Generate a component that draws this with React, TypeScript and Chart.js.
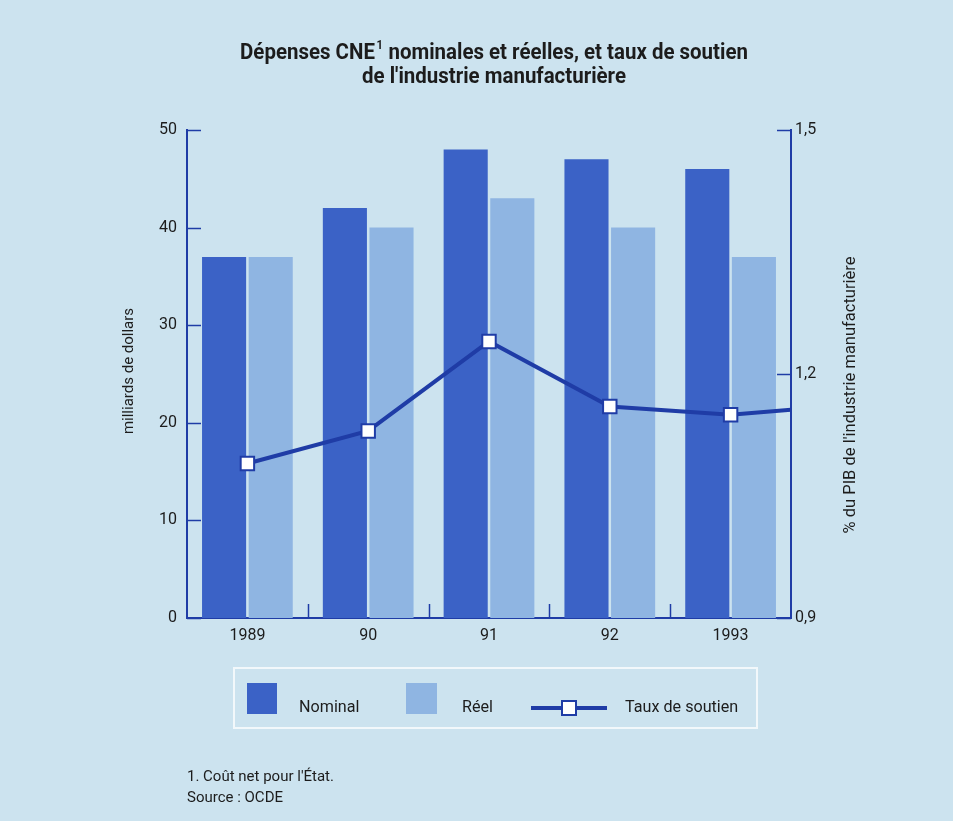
import { useEffect, useRef } from 'react';
import { Chart, registerables } from 'chart.js';

Chart.register(...registerables);

// Données : dépenses CNE (milliards de dollars) et taux de soutien (% du PIB manufacturier)
const years = ['1989', '90', '91', '92', '1993'];
const nominal = [37, 42, 48, 47, 46];
const reel = [37, 40, 43, 40, 37];
const tauxSoutien = [1.09, 1.13, 1.24, 1.16, 1.15];
const tauxFinAxe = 1.156; // prolongement de la courbe jusqu'à l'axe de droite
const leftTicks = [0, 10, 20, 30, 40, 50];
const rightTicks = [0.9, 1.2, 1.5];

const W = 953;
const H = 821;
const FONT = "Roboto, 'Noto Sans', sans-serif";
const BG = '#cce3ef';
const NAVY = '#1f3ca6';
const C_NOM = '#3b62c6';
const C_REEL = '#8fb5e2';
const TEXT = '#1c1c1c';

// décalage des deux barres d'une même année (fraction de la largeur de catégorie)
const PAIR_SHIFT = 0.193;

const fmt = (v: number) => v.toFixed(1).replace('.', ',');

// texte légèrement condensé (police étroite)
function condensed(ctx: CanvasRenderingContext2D, text: string, x: number, y: number, k: number, align: 'left' | 'center') {
  const w = ctx.measureText(text).width * k;
  const left = align === 'center' ? x - w / 2 : x;
  ctx.save();
  ctx.translate(left, y);
  ctx.scale(k, 1);
  ctx.textAlign = 'left';
  ctx.fillText(text, 0, 0);
  ctx.restore();
  return w;
}

const decor = {
  id: 'decor',
  beforeDraw(chart: any) {
    const { ctx } = chart;
    ctx.save();
    ctx.fillStyle = BG;
    ctx.fillRect(0, 0, chart.width, chart.height);
    ctx.restore();
  },
  afterDatasetsDraw(chart: any) {
    const { ctx, chartArea, scales } = chart;
    ctx.save();
    ctx.strokeStyle = NAVY;
    ctx.lineWidth = 1.5;
    const len = 14;
    leftTicks.forEach((v) => {
      const y = Math.round(scales.y.getPixelForValue(v)) + 0.5;
      ctx.beginPath();
      ctx.moveTo(chartArea.left, y);
      ctx.lineTo(chartArea.left + len, y);
      ctx.stroke();
    });
    rightTicks.forEach((v) => {
      const y = Math.round(scales.y1.getPixelForValue(v)) + 0.5;
      ctx.beginPath();
      ctx.moveTo(chartArea.right, y);
      ctx.lineTo(chartArea.right - len, y);
      ctx.stroke();
    });
    for (let i = 0; i < years.length - 1; i++) {
      const x = Math.round((scales.x.getPixelForTick(i) + scales.x.getPixelForTick(i + 1)) / 2) + 0.5;
      ctx.beginPath();
      ctx.moveTo(x, chartArea.bottom);
      ctx.lineTo(x, chartArea.bottom - len);
      ctx.stroke();
    }
    ctx.restore();
  },
  afterDraw(chart: any) {
    const { ctx } = chart;
    ctx.save();
    ctx.fillStyle = TEXT;
    ctx.textBaseline = 'alphabetic';

    // Titre sur deux lignes
    const cx = 494;
    const tA = 'Dépenses CNE';
    const tSup = '1';
    const tB = ' nominales et réelles, et taux de soutien';
    const k = 0.93;
    ctx.font = `bold 22px ${FONT}`;
    const wA = ctx.measureText(tA).width * k;
    const wB = ctx.measureText(tB).width * k;
    ctx.font = `bold 12px ${FONT}`;
    const wS = ctx.measureText(tSup).width * k + 2;
    const x0 = cx - (wA + wS + wB) / 2;
    ctx.font = `bold 22px ${FONT}`;
    condensed(ctx, tA, x0, 59, k, 'left');
    ctx.font = `bold 12px ${FONT}`;
    condensed(ctx, tSup, x0 + wA + 1.5, 49, k, 'left');
    ctx.font = `bold 22px ${FONT}`;
    condensed(ctx, tB, x0 + wA + wS, 59, k, 'left');
    condensed(ctx, "de l'industrie manufacturière", cx, 83, k, 'center');

    // Titres des axes
    ctx.textBaseline = 'middle';
    ctx.font = `15px ${FONT}`;
    ctx.save();
    ctx.translate(129, 371);
    ctx.rotate(-Math.PI / 2);
    condensed(ctx, 'milliards de dollars', 0, 0, 1, 'center');
    ctx.restore();
    ctx.font = `16.5px ${FONT}`;
    ctx.save();
    ctx.translate(851, 395);
    ctx.rotate(-Math.PI / 2);
    condensed(ctx, "% du PIB de l'industrie manufacturière", 0, 0, 1, 'center');
    ctx.restore();

    // Légende
    ctx.strokeStyle = '#f2f8fb';
    ctx.lineWidth = 2;
    ctx.strokeRect(234, 668, 523, 60);
    ctx.fillStyle = C_NOM;
    ctx.fillRect(247, 683, 30, 31);
    ctx.fillStyle = C_REEL;
    ctx.fillRect(406, 683, 31, 31);
    ctx.strokeStyle = NAVY;
    ctx.lineWidth = 4;
    ctx.beginPath();
    ctx.moveTo(531, 708);
    ctx.lineTo(607, 708);
    ctx.stroke();
    ctx.fillStyle = '#ffffff';
    ctx.lineWidth = 2;
    ctx.fillRect(562, 701, 14, 14);
    ctx.strokeRect(562, 701, 14, 14);
    ctx.fillStyle = TEXT;
    ctx.font = `17px ${FONT}`;
    ctx.textBaseline = 'middle';
    condensed(ctx, 'Nominal', 299, 708, 0.95, 'left');
    condensed(ctx, 'Réel', 462, 708, 0.95, 'left');
    condensed(ctx, 'Taux de soutien', 625, 708, 0.95, 'left');

    // Notes
    ctx.font = `15px ${FONT}`;
    ctx.textBaseline = 'alphabetic';
    condensed(ctx, "1. Coût net pour l'État.", 187, 781, 1, 'left');
    condensed(ctx, 'Source : OCDE', 187, 802, 1, 'left');
    ctx.restore();
  },
};

// axe horizontal invisible, aligné sur la zone du graphique
const hiddenX = (shift: number) => ({
  type: 'linear',
  position: 'top',
  display: true,
  offset: false,
  min: -0.5 + shift,
  max: years.length - 0.5 + shift,
  afterBuildTicks: (s: any) => {
    s.ticks = years.map((_, i) => ({ value: i }));
  },
  grid: { display: false, drawTicks: false, offset: false },
  border: { display: false },
  ticks: { display: false },
  afterFit: (s: any) => {
    s.height = 0;
  },
});

export default function App() {
  const ref = useRef<HTMLCanvasElement | null>(null);

  useEffect(() => {
    if (!ref.current) return;
    const lineData = tauxSoutien.map((v, i) => ({ x: i, y: v }));
    lineData.push({ x: years.length - 0.5, y: tauxFinAxe });
    const radii = lineData.map((_, i) => (i < tauxSoutien.length ? 9.5 : 0));

    const barStyle = {
      yAxisID: 'y',
      grouped: false,
      categoryPercentage: 1,
      barPercentage: 0.365,
      order: 1,
    };

    const chart = new Chart(ref.current, {
      type: 'bar',
      data: {
        labels: years,
        datasets: [
          {
            label: 'Nominal',
            data: nominal.map((v, i) => ({ x: i, y: v })),
            backgroundColor: C_NOM,
            xAxisID: 'xn',
            ...barStyle,
          } as any,
          {
            label: 'Réel',
            data: reel.map((v, i) => ({ x: i, y: v })),
            backgroundColor: C_REEL,
            xAxisID: 'xr',
            ...barStyle,
          } as any,
          {
            type: 'line',
            label: 'Taux de soutien',
            data: lineData as any,
            xAxisID: 'xl',
            yAxisID: 'y1',
            borderColor: NAVY,
            borderWidth: 4,
            pointStyle: 'rect',
            pointRadius: radii,
            pointBackgroundColor: '#ffffff',
            pointBorderColor: NAVY,
            pointBorderWidth: 2,
            tension: 0,
            order: 0,
          } as any,
        ],
      },
      options: {
        responsive: false,
        animation: false,
        layout: { padding: { top: 130, left: 0, right: 0, bottom: 0 } },
        plugins: {
          legend: { display: false },
          title: { display: false },
          tooltip: { enabled: false },
        },
        scales: {
          x: {
            type: 'category',
            labels: years,
            offset: true,
            grid: { display: false, drawTicks: false },
            border: { display: true, color: NAVY, width: 2 },
            ticks: { color: TEXT, font: { family: FONT, size: 16 }, padding: 8, maxRotation: 0 },
            afterFit: (s: any) => {
              s.height = H - 618;
            },
          },
          xl: hiddenX(0),
          xn: hiddenX(PAIR_SHIFT),
          xr: hiddenX(-PAIR_SHIFT),
          y: {
            position: 'left',
            min: 0,
            max: 50,
            afterBuildTicks: (s: any) => {
              s.ticks = leftTicks.map((v) => ({ value: v }));
            },
            grid: { display: false, drawTicks: false },
            border: { display: true, color: NAVY, width: 2 },
            ticks: { color: TEXT, font: { family: FONT, size: 16 }, padding: 10 },
            afterFit: (s: any) => {
              s.width = 187;
            },
          },
          y1: {
            position: 'right',
            min: 0.9,
            max: 1.5,
            afterBuildTicks: (s: any) => {
              s.ticks = rightTicks.map((v) => ({ value: v }));
            },
            grid: { display: false, drawTicks: false },
            border: { display: true, color: NAVY, width: 2 },
            ticks: {
              color: TEXT,
              font: { family: FONT, size: 16 },
              padding: 4,
              callback: (v: any) => fmt(Number(v)),
            },
            afterFit: (s: any) => {
              s.width = W - 791;
            },
          },
        },
      } as any,
      plugins: [decor],
    });
    return () => chart.destroy();
  }, []);

  return (
    <div style={{ position: 'absolute', left: 0, top: 0, width: W, height: H, background: BG }}>
      <canvas ref={ref} width={W} height={H} style={{ width: W, height: H, display: 'block' }} />
    </div>
  );
}
